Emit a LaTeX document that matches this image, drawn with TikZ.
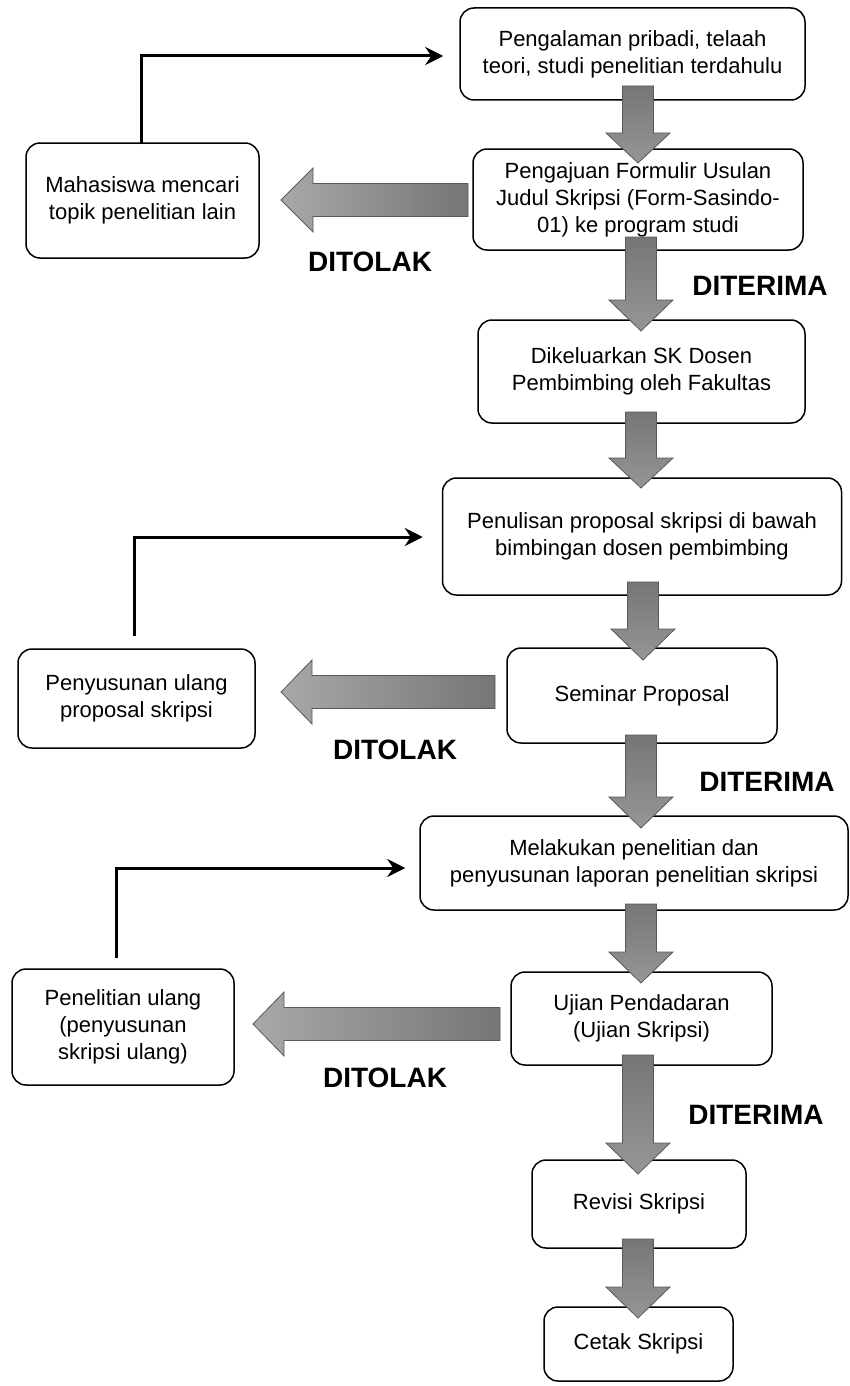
\documentclass[tikz,border=0pt]{standalone}
\usepackage{fontspec}
\setmainfont{Liberation Sans}
\usetikzlibrary{calc,arrows.meta}
\definecolor{dk}{HTML}{767676}
\definecolor{lt}{HTML}{A8A8A8}
\definecolor{md}{HTML}{969696}
\newcommand{\blkdown}[4]{% x, top, headbase, tip
  \path[blkv] (#1-15.5,#2) -- (#1+15.5,#2) -- (#1+15.5,#3) -- (#1+32,#3) -- (#1,#4) -- (#1-32,#3) -- (#1-15.5,#3) -- cycle;}
\newcommand{\blkleft}[4]{% right x, y, headbase x, tip x
  \path[blkh] (#1,#2-16.5) -- (#1,#2+16.5) -- (#3,#2+16.5) -- (#3,#2+32) -- (#4,#2) -- (#3,#2-32) -- (#3,#2-16.5) -- cycle;}
\begin{document}
\begin{tikzpicture}[x=1pt,y=-1pt,
  box/.style={draw=black,line width=1.5pt,rounded corners=14pt,fill=white,align=center,
    font=\fontsize{22}{27}\selectfont,inner sep=0pt},
  blkv/.style={draw=black!65,line width=0.8pt,top color=dk,bottom color=md},
  blkh/.style={draw=black!65,line width=0.8pt,left color=lt,right color=dk},
  back/.style={draw=black,line width=3pt,-{Stealth[length=18pt,width=18pt,inset=6pt]}},
  lbl/.style={font=\fontsize{28}{30}\selectfont\bfseries,inner sep=0pt}]
\useasboundingbox (0,0) rectangle (850,1386);
% boxes
\node[box,minimum width=345pt,minimum height=92pt] (A) at (632.5,54) {Pengalaman pribadi, telaah\\teori, studi penelitian terdahulu};
\node[box,minimum width=330pt,minimum height=101pt] (B) at (638,199.5) {Pengajuan Formulir Usulan\\Judul Skripsi (Form-Sasindo-\\01) ke program studi};
\node[box,minimum width=233pt,minimum height=115pt] (M) at (142.5,200.5) {Mahasiswa mencari\\topik penelitian lain};
\node[box,minimum width=327pt,minimum height=103pt] (C) at (641.5,371.5) {Dikeluarkan SK Dosen\\Pembimbing oleh Fakultas};
\node[box,minimum width=399pt,minimum height=117pt] (D) at (642,536.5) {Penulisan proposal skripsi di bawah\\bimbingan dosen pembimbing};
\node[box,minimum width=270pt,minimum height=95pt] (E) at (642,695.5) {Seminar Proposal};
\node[box,minimum width=237pt,minimum height=99pt] (P) at (136.5,698.5) {Penyusunan ulang\\proposal skripsi};
\node[box,minimum width=428pt,minimum height=94pt] (F) at (634,863) {Melakukan penelitian dan\\penyusunan laporan penelitian skripsi};
\node[box,minimum width=261pt,minimum height=93pt] (G) at (641.5,1018.5) {Ujian Pendadaran\\(Ujian Skripsi)};
\node[box,minimum width=222pt,minimum height=116pt] (R) at (123,1027) {Penelitian ulang\\(penyusunan\\skripsi ulang)};
\node[box,minimum width=214pt,minimum height=88pt] (H) at (639,1204) {Revisi Skripsi};
\node[box,minimum width=189pt,minimum height=74pt] (I) at (638.5,1344) {Cetak Skripsi};
% down block arrows (on top of the boxes)
\blkdown{638}{86}{133}{163}
\blkdown{641}{237}{300}{331}
\blkdown{641}{412}{458}{488}
\blkdown{643}{582}{629}{660}
\blkdown{641}{735}{797}{828}
\blkdown{641}{904}{952}{983}
\blkdown{638}{1055}{1143}{1174}
\blkdown{638}{1239}{1287}{1318}
% left block arrows
\blkleft{468}{200}{313}{281}
\blkleft{495}{692}{312}{281}
\blkleft{500}{1024}{284}{253}
% feedback arrows
\coordinate (m0) at ($(M.north)+(-1.5,2)$);
\coordinate (p0) at ($(P.north)+(-2.5,-12)$);
\coordinate (r0) at ($(R.north)+(-7,-10)$);
\draw[back] (m0) |- ($(A.west)+(-16,2)$);
\draw[back] (p0) |- ($(D.west)+(-19,0.5)$);
\draw[back] (r0) |- ($(F.west)+(-14,5)$);
% labels
\node[lbl] (t1) at (370,262) {DITOLAK};
\node[lbl] (t2) at (395,750) {DITOLAK};
\node[lbl] (t3) at (385,1078) {DITOLAK};
\node[lbl] (d1) at (760,286) {DITERIMA};
\node[lbl] (d2) at (767,782) {DITERIMA};
\node[lbl] (d3) at (756,1115) {DITERIMA};
\end{tikzpicture}
\end{document}
